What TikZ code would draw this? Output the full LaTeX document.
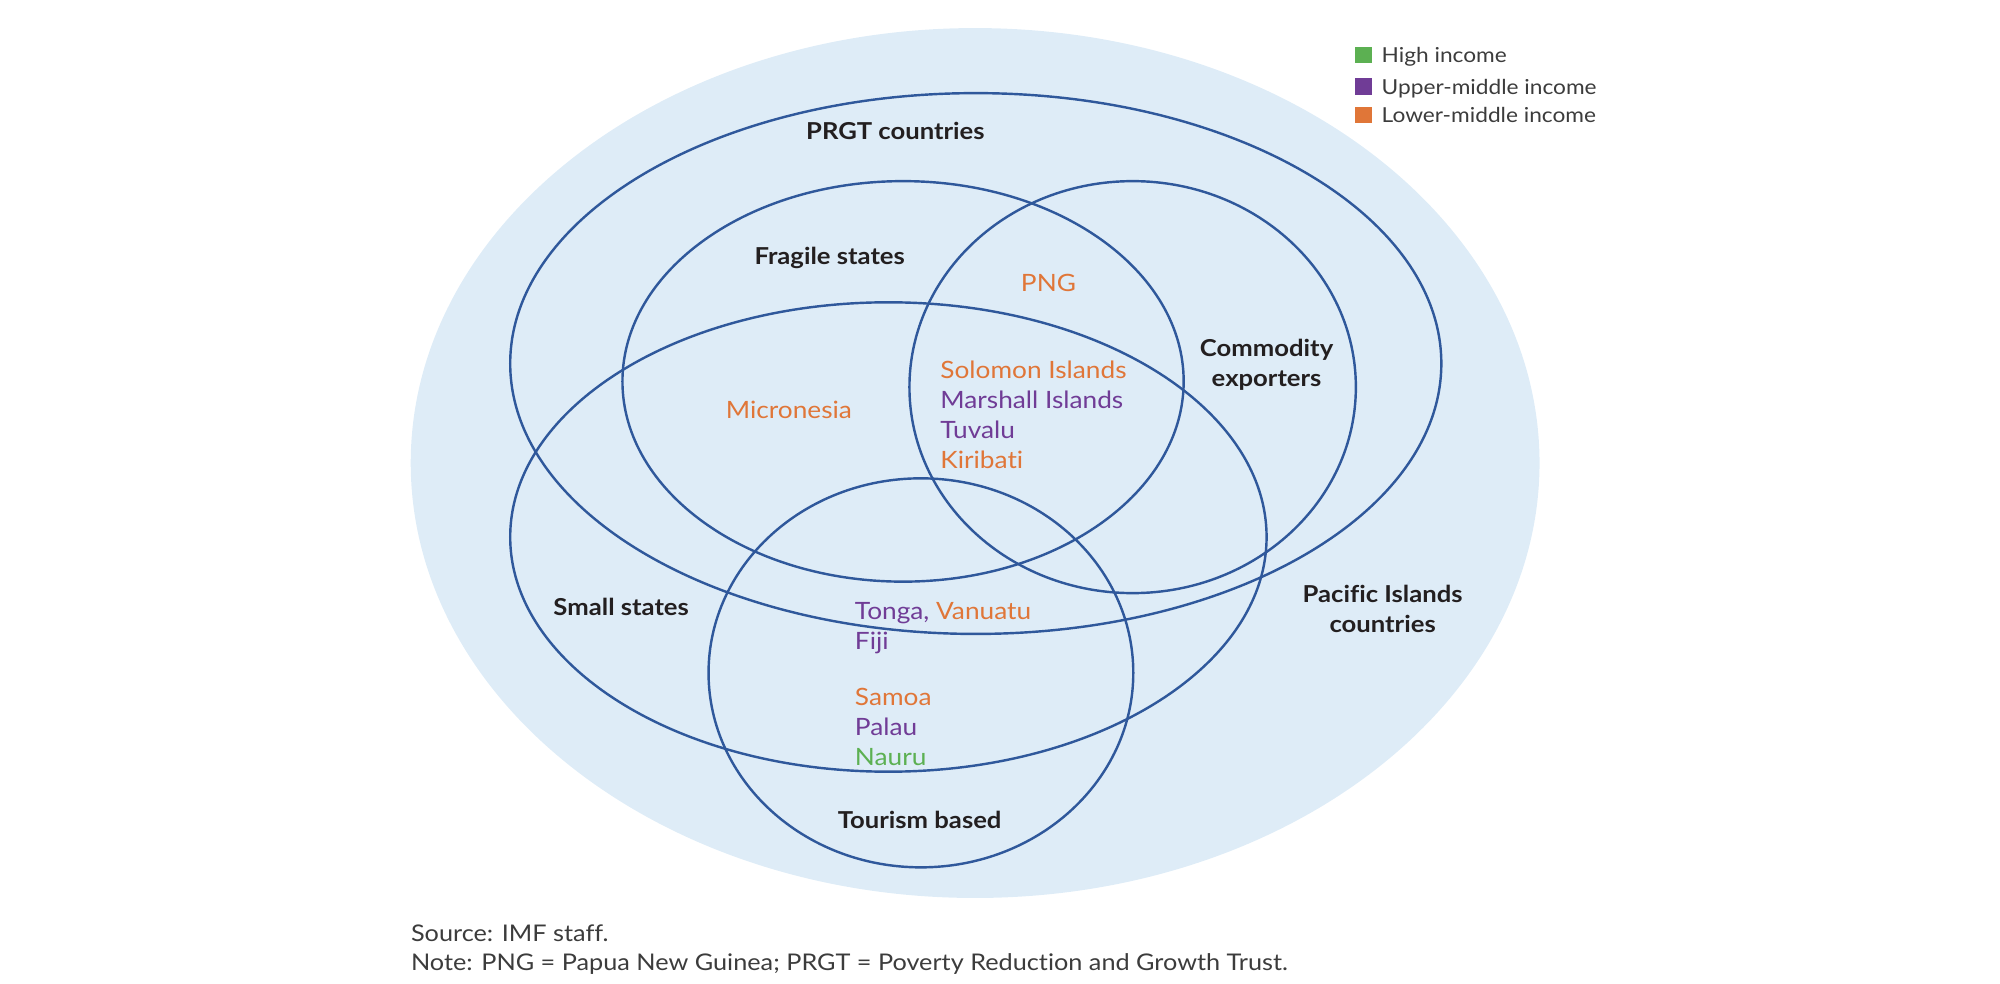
\documentclass[tikz,border=0pt]{standalone}
\usepackage{fontspec}
\setmainfont{Lato}[FakeStretch=1.1, Ligatures=NoCommon]
\usetikzlibrary{shapes}

\definecolor{skyfill}{RGB}{222,236,247}
\definecolor{ringblue}{RGB}{47,88,155}
\definecolor{orng}{RGB}{224,118,56}
\definecolor{purp}{RGB}{112,60,150}
\definecolor{grn}{RGB}{92,176,82}
\definecolor{ink}{RGB}{35,31,32}
\definecolor{greytxt}{RGB}{60,60,60}

\tikzset{ring/.style={draw=ringblue, line width=1.35pt},
  head/.style={font=\fontsize{13}{16.8}\selectfont\bfseries, text=ink, align=center, inner sep=0pt},
  cty/.style={font=\fontsize{13.3}{17}\selectfont, anchor=base west, inner sep=0pt},
  keybox/.style={minimum size=0.325cm, inner sep=0pt},
  keytxt/.style={font=\fontsize{11.5}{14}\selectfont, text=greytxt, anchor=base west, inner sep=0pt},
  notetxt/.style={font=\fontsize{12.8}{15}\selectfont, text=greytxt, anchor=base west, inner sep=0pt}}

\begin{document}
\begin{tikzpicture}[x=0.025cm, y=-0.025cm]
\useasboundingbox (0,0) rectangle (1568,771);
% the sets
\fill[skyfill] (764.5,363) ellipse [x radius=442.5, y radius=341];
\draw[ring] (765,285) ellipse [x radius=365, y radius=212];
\draw[ring] (708,299) ellipse [x radius=220, y radius=157];
\draw[ring] (888,303.5) ellipse [x radius=175, y radius=161.5];
\draw[ring] (696.5,421) ellipse [x radius=296.5, y radius=184];
\draw[ring] (722,527.5) ellipse [x radius=166.5, y radius=152.5];
% set names
\node[head, anchor=base] (prgt) at (702,109.5) {PRGT countries};
\node[head, anchor=base] (fragile) at (650.5,207) {Fragile states};
\node[head] (commod) at (993,286) {Commodity\\exporters};
\node[head, anchor=base] (small) at (487,482.5) {Small states};
\node[head] (pacific) at (1084,477.5) {Pacific Islands\\countries};
\node[head, anchor=base] (tourism) at (721,649.5) {Tourism based};
% countries
\node[cty, anchor=base, text=orng] (png) at (822,228.5) {PNG};
\node[cty, anchor=base, text=orng] (micro) at (618.5,328) {Micronesia};
\node[cty, text=orng] (solomon) at (737,297) {Solomon Islands};
\node[cty, text=purp] (marshall) at (737,320.5) {Marshall Islands};
\node[cty, text=purp] (tuvalu) at (737,344) {Tuvalu};
\node[cty, text=orng] (kiribati) at (737,367.5) {Kiribati};
\node[cty] (tonga) at (670,486) {\textcolor{purp}{Tonga,} \textcolor{orng}{Vanuatu}};
\node[cty, text=purp] (fiji) at (670,509.5) {Fiji};
\node[cty, text=orng] (samoa) at (670,553) {Samoa};
\node[cty, text=purp] (palau) at (670,576.5) {Palau};
\node[cty, text=grn] (nauru) at (670,600) {Nauru};
% legend
\node[keybox, fill=grn] (khigh) at (1069,43) {};
\node[keybox, fill=purp] (kupper) at (1069,68) {};
\node[keybox, fill=orng] (klower) at (1069,90) {};
\node[keytxt] (thigh) at (1083,49) {High income};
\node[keytxt] (tupper) at (1083,74) {Upper-middle income};
\node[keytxt] (tlower) at (1083,96) {Lower-middle income};
% notes
\node[notetxt] (source) at (322,738.5) {Source: IMF staff.};
\node[notetxt] (note) at (322,760.5) {Note: PNG = Papua New Guinea; PRGT = Poverty Reduction and Growth Trust.};
\end{tikzpicture}
\end{document}
